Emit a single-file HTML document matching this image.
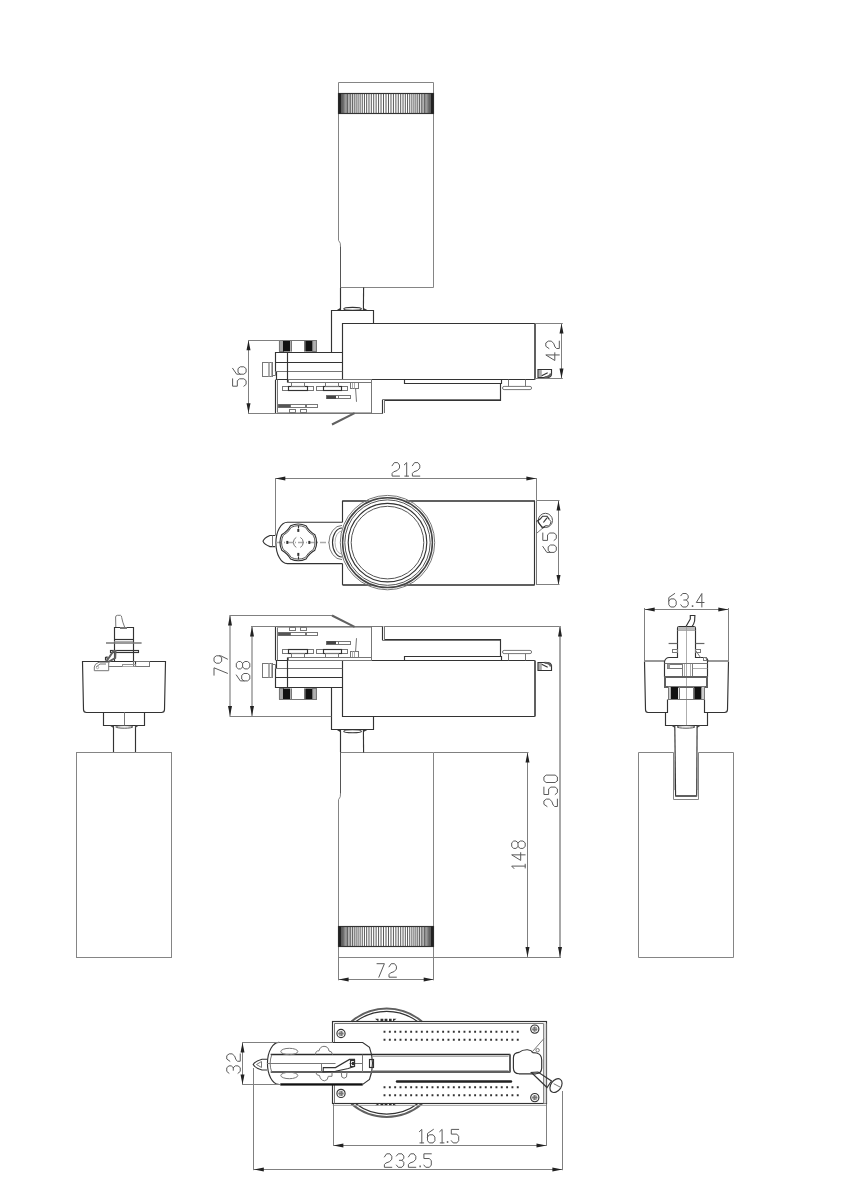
<!DOCTYPE html>
<html><head><meta charset="utf-8"><style>
html,body{margin:0;padding:0;background:#fff;font-family:"Liberation Sans",sans-serif;}
svg{display:block}

.o{fill:none;stroke:#777;stroke-width:1}
.cy{fill:none;stroke:#858585;stroke-width:1}
.o5{fill:none;stroke:#555;stroke-width:1}
.oD{fill:none;stroke:#2a2a2a;stroke-width:1.4}
.o2{fill:none;stroke:#333;stroke-width:1.15}
.o3{fill:none;stroke:#606060;stroke-width:2}
.o3b{fill:none;stroke:#444;stroke-width:1.5}
.g{fill:none;stroke:#999;stroke-width:.8}
.d{fill:none;stroke:#808080;stroke-width:1}
.d2{fill:none;stroke:#8c8c8c;stroke-width:1.3}
.d3{fill:none;stroke:#a8a8a8;stroke-width:2}
.a{fill:#222;stroke:none}
.t{fill:none;stroke:#5a5a5a;stroke-width:1;stroke-linejoin:round;stroke-linecap:round}
.k{fill:none;stroke:#222;stroke-width:.75}
.cl{fill:none;stroke:#aaa;stroke-width:1.5;stroke-dasharray:6 2 1 2}
.o3g{fill:none;stroke:#777;stroke-width:1.6}
.o2g{fill:none;stroke:#666;stroke-width:1.2}

</style></head><body>
<svg width="848" height="1200" viewBox="0 0 848 1200">
<rect width="848" height="1200" fill="#fff"/>
<g>
<path class="cy" d="M340.5,752.5 L340.5,793.5 Q341,797 338.5,799.7 L338.5,957.5 L433.5,957.5 L433.5,752.5 Z"/>
<line class="o5" x1="340.5" y1="752.5" x2="340.5" y2="793.5"/>
<path class="k" d="M338.57,926.5 V946.5 M338.76,926.5 V946.5 M339.08,926.5 V946.5 M339.54,926.5 V946.5 M340.12,926.5 V946.5 M340.82,926.5 V946.5 M341.65,926.5 V946.5 M342.61,926.5 V946.5 M343.68,926.5 V946.5 M344.86,926.5 V946.5 M346.16,926.5 V946.5 M347.57,926.5 V946.5 M349.09,926.5 V946.5 M350.7,926.5 V946.5 M352.41,926.5 V946.5 M354.22,926.5 V946.5 M356.11,926.5 V946.5 M358.08,926.5 V946.5 M360.13,926.5 V946.5 M362.25,926.5 V946.5 M364.44,926.5 V946.5 M366.68,926.5 V946.5 M368.98,926.5 V946.5 M371.32,926.5 V946.5 M373.71,926.5 V946.5 M376.12,926.5 V946.5 M378.57,926.5 V946.5 M381.03,926.5 V946.5 M383.51,926.5 V946.5 M386,926.5 V946.5 M388.49,926.5 V946.5 M390.97,926.5 V946.5 M393.43,926.5 V946.5 M395.88,926.5 V946.5 M398.29,926.5 V946.5 M400.68,926.5 V946.5 M403.02,926.5 V946.5 M405.32,926.5 V946.5 M407.56,926.5 V946.5 M409.75,926.5 V946.5 M411.87,926.5 V946.5 M413.92,926.5 V946.5 M415.89,926.5 V946.5 M417.78,926.5 V946.5 M419.59,926.5 V946.5 M421.3,926.5 V946.5 M422.91,926.5 V946.5 M424.43,926.5 V946.5 M425.84,926.5 V946.5 M427.14,926.5 V946.5 M428.32,926.5 V946.5 M429.39,926.5 V946.5 M430.35,926.5 V946.5 M431.18,926.5 V946.5 M431.88,926.5 V946.5 M432.46,926.5 V946.5 M432.92,926.5 V946.5 M433.24,926.5 V946.5 M433.43,926.5 V946.5 "/>
<rect class="o2" x="338.5" y="926.5" width="95" height="20"/>
<rect x="338.5" y="926.5" width="2.5" height="20" fill="#222"/>
<rect x="431" y="926.5" width="2.5" height="20" fill="#222"/>
<line class="o2" x1="340.5" y1="729.3" x2="340.5" y2="752.4"/>
<line class="o2" x1="363.4" y1="729.3" x2="363.6" y2="752.4"/>
<ellipse class="o2" cx="352.6" cy="731.2" rx="8.8" ry="1.5"/>
<path fill="#333" d="M336.5,729.8 L340.6,729.8 L340.6,732.3 Z M367.8,729.8 L363,729.8 L363,732.3 Z"/>
<path class="o2" d="M342.5,716.5 L373.5,716.5 L373.5,729.5 L331.5,729.5 L331.5,687.5"/>
<path class="o2" d="M535,660.5 L342.5,660.5 L342.5,716.5 L535,716.5"/>
<line class="o3" x1="535" y1="660.5" x2="535" y2="716.5"/>
<path class="o2" d="M342.5,660.5 L276.5,660.5 L276.5,668.5 L275.5,668.5 L275.5,687.5 L342.5,687.5"/>
<line class="o" x1="275.3" y1="668.5" x2="342.3" y2="668.5"/>
<line class="o2" x1="275.3" y1="677.5" x2="342.3" y2="677.5"/>
<line class="o2" x1="287.5" y1="657.4" x2="287.5" y2="687.4"/>
<rect class="o" x="262.5" y="663.5" width="10" height="14"/>
<line class="g" x1="268.5" y1="663.3" x2="268.5" y2="677.5"/>
<line class="g" x1="269.5" y1="663.3" x2="269.5" y2="677.5"/>
<line class="g" x1="271.5" y1="663.3" x2="271.5" y2="677.5"/>
<path class="o" d="M272.5,664.5 L275.5,664.5 L275.5,668.5"/>
<rect x="279" y="688.5" width="4" height="11" fill="#c8c8c8"/>
<path class="g" d="M279.38,688.5 V699.5 M280.38,688.5 V699.5 M281.62,688.5 V699.5 M282.62,688.5 V699.5 "/>
<rect class="o" x="279.5" y="688.5" width="4" height="11"/>
<rect x="283" y="688.5" width="7.3" height="11" fill="#111"/>
<rect x="290.3" y="688.5" width="1.3" height="11" fill="#aaa"/>
<rect x="304.2" y="688.5" width="1.1" height="11" fill="#aaa"/>
<rect x="305.3" y="688.5" width="7" height="11" fill="#111"/>
<rect x="312.3" y="688.5" width="4.2" height="11" fill="#c8c8c8"/>
<path class="g" d="M312.7,688.5 V699.5 M313.75,688.5 V699.5 M315.05,688.5 V699.5 M316.1,688.5 V699.5 "/>
<rect class="o" x="312.5" y="688.5" width="4" height="11"/>
<line class="o" x1="291.5" y1="688.5" x2="291.5" y2="699.5"/>
<line class="o" x1="304.5" y1="688.5" x2="304.5" y2="699.5"/>
<line class="o" x1="279" y1="699.5" x2="316.5" y2="699.5"/>
<line class="o2" x1="275.5" y1="626.4" x2="275.5" y2="660.4"/>
<line class="o" x1="277.5" y1="627.3" x2="277.5" y2="660.4"/>
<line class="o" x1="275.6" y1="626.5" x2="382.5" y2="626.5"/>
<line class="g" x1="277.5" y1="627.5" x2="371.6" y2="627.5"/>
<line class="o" x1="371.5" y1="626.4" x2="371.5" y2="660.4"/>
<rect class="o" x="289.5" y="627.5" width="6" height="3"/>
<rect class="o" x="300.5" y="627.5" width="6" height="3"/>
<rect class="o" x="278.5" y="632.5" width="39" height="3"/>
<rect x="278.6" y="632.7" width="12.2" height="2.7" fill="#555"/>
<line class="o" x1="305.5" y1="632.7" x2="305.5" y2="635.4"/>
<line class="o" x1="306.5" y1="632.7" x2="306.5" y2="635.4"/>
<rect class="o" x="326.5" y="641.5" width="24" height="3"/>
<rect x="326.8" y="641.2" width="9.2" height="2.9" fill="#444"/>
<line class="o" x1="338.5" y1="641.2" x2="338.5" y2="644.1"/>
<rect class="o" x="282.5" y="649.5" width="31" height="4"/>
<rect class="o2" x="288.5" y="649.5" width="19" height="4"/>
<rect class="o" x="291.5" y="653.5" width="13" height="4"/>
<rect class="o" x="316.5" y="649.5" width="31" height="4"/>
<rect class="o2" x="323.5" y="649.5" width="18" height="4"/>
<rect class="o" x="325.5" y="653.5" width="13" height="4"/>
<rect class="o" x="350.5" y="651.5" width="8" height="6"/>
<line class="g" x1="352.5" y1="651" x2="352.5" y2="657.4"/>
<line class="g" x1="354.5" y1="651" x2="354.5" y2="657.4"/>
<path class="o" d="M355.6,651 L356.5,638.2"/>
<line class="o3" x1="332" y1="615.5" x2="354.6" y2="626.9"/>
<rect class="o" x="288.5" y="657.5" width="83" height="3"/>
<line class="o2" x1="382.5" y1="626.4" x2="382.5" y2="640.4"/>
<line class="o" x1="384.5" y1="627" x2="384.5" y2="639"/>
<line class="o" x1="382.5" y1="640.5" x2="500.3" y2="640.5"/>
<line class="o2" x1="384.3" y1="639.5" x2="500.3" y2="639.5"/>
<line class="o2" x1="500.5" y1="639" x2="500.5" y2="657"/>
<path class="o2" d="M404.5,660.5 L404.5,656.5 L501.5,656.5 L501.5,660.5"/>
<rect class="o" x="502.5" y="650.4" width="29.1" height="3.2" rx="1.6"/>
<line class="o" x1="508.5" y1="653.6" x2="508.5" y2="660.4"/>
<line class="o" x1="525.5" y1="653.6" x2="525.5" y2="660.4"/>
<rect x="538.3" y="662.8" width="3.5" height="7.4" fill="#aaa"/>
<path class="o2" d="M538,662.5 L538,670.5 L551.5,670.5 L551.5,665.5 Q550.8,662.5 547,662.5 Z"/>
<path class="o3" d="M544.5,662.8 Q550,663 550.8,666.5"/>
<line class="o2" x1="541.7" y1="664.2" x2="547.7" y2="667.2"/>
</g>
<g transform="matrix(1 0 0 -1 0 1040)">
<path class="cy" d="M340.5,752.5 L340.5,793.5 Q341,797 338.5,799.7 L338.5,957.5 L433.5,957.5 L433.5,752.5 Z"/>
<line class="o5" x1="340.5" y1="752.5" x2="340.5" y2="793.5"/>
<path class="k" d="M338.57,926.5 V946.5 M338.76,926.5 V946.5 M339.08,926.5 V946.5 M339.54,926.5 V946.5 M340.12,926.5 V946.5 M340.82,926.5 V946.5 M341.65,926.5 V946.5 M342.61,926.5 V946.5 M343.68,926.5 V946.5 M344.86,926.5 V946.5 M346.16,926.5 V946.5 M347.57,926.5 V946.5 M349.09,926.5 V946.5 M350.7,926.5 V946.5 M352.41,926.5 V946.5 M354.22,926.5 V946.5 M356.11,926.5 V946.5 M358.08,926.5 V946.5 M360.13,926.5 V946.5 M362.25,926.5 V946.5 M364.44,926.5 V946.5 M366.68,926.5 V946.5 M368.98,926.5 V946.5 M371.32,926.5 V946.5 M373.71,926.5 V946.5 M376.12,926.5 V946.5 M378.57,926.5 V946.5 M381.03,926.5 V946.5 M383.51,926.5 V946.5 M386,926.5 V946.5 M388.49,926.5 V946.5 M390.97,926.5 V946.5 M393.43,926.5 V946.5 M395.88,926.5 V946.5 M398.29,926.5 V946.5 M400.68,926.5 V946.5 M403.02,926.5 V946.5 M405.32,926.5 V946.5 M407.56,926.5 V946.5 M409.75,926.5 V946.5 M411.87,926.5 V946.5 M413.92,926.5 V946.5 M415.89,926.5 V946.5 M417.78,926.5 V946.5 M419.59,926.5 V946.5 M421.3,926.5 V946.5 M422.91,926.5 V946.5 M424.43,926.5 V946.5 M425.84,926.5 V946.5 M427.14,926.5 V946.5 M428.32,926.5 V946.5 M429.39,926.5 V946.5 M430.35,926.5 V946.5 M431.18,926.5 V946.5 M431.88,926.5 V946.5 M432.46,926.5 V946.5 M432.92,926.5 V946.5 M433.24,926.5 V946.5 M433.43,926.5 V946.5 "/>
<rect class="o2" x="338.5" y="926.5" width="95" height="20"/>
<rect x="338.5" y="926.5" width="2.5" height="20" fill="#222"/>
<rect x="431" y="926.5" width="2.5" height="20" fill="#222"/>
<line class="o2" x1="340.5" y1="729.3" x2="340.5" y2="752.4"/>
<line class="o2" x1="363.4" y1="729.3" x2="363.6" y2="752.4"/>
<ellipse class="o2" cx="352.6" cy="731.2" rx="8.8" ry="1.5"/>
<path fill="#333" d="M336.5,729.8 L340.6,729.8 L340.6,732.3 Z M367.8,729.8 L363,729.8 L363,732.3 Z"/>
<path class="o2" d="M342.5,716.5 L373.5,716.5 L373.5,729.5 L331.5,729.5 L331.5,687.5"/>
<path class="o2" d="M535,660.5 L342.5,660.5 L342.5,716.5 L535,716.5"/>
<line class="o3" x1="535" y1="660.5" x2="535" y2="716.5"/>
<path class="o2" d="M342.5,660.5 L276.5,660.5 L276.5,668.5 L275.5,668.5 L275.5,687.5 L342.5,687.5"/>
<line class="o" x1="275.3" y1="668.5" x2="342.3" y2="668.5"/>
<line class="o2" x1="275.3" y1="677.5" x2="342.3" y2="677.5"/>
<line class="o2" x1="287.5" y1="657.4" x2="287.5" y2="687.4"/>
<rect class="o" x="262.5" y="663.5" width="10" height="14"/>
<line class="g" x1="268.5" y1="663.3" x2="268.5" y2="677.5"/>
<line class="g" x1="269.5" y1="663.3" x2="269.5" y2="677.5"/>
<line class="g" x1="271.5" y1="663.3" x2="271.5" y2="677.5"/>
<path class="o" d="M272.5,664.5 L275.5,664.5 L275.5,668.5"/>
<rect x="279" y="688.5" width="4" height="11" fill="#c8c8c8"/>
<path class="g" d="M279.38,688.5 V699.5 M280.38,688.5 V699.5 M281.62,688.5 V699.5 M282.62,688.5 V699.5 "/>
<rect class="o" x="279.5" y="688.5" width="4" height="11"/>
<rect x="283" y="688.5" width="7.3" height="11" fill="#111"/>
<rect x="290.3" y="688.5" width="1.3" height="11" fill="#aaa"/>
<rect x="304.2" y="688.5" width="1.1" height="11" fill="#aaa"/>
<rect x="305.3" y="688.5" width="7" height="11" fill="#111"/>
<rect x="312.3" y="688.5" width="4.2" height="11" fill="#c8c8c8"/>
<path class="g" d="M312.7,688.5 V699.5 M313.75,688.5 V699.5 M315.05,688.5 V699.5 M316.1,688.5 V699.5 "/>
<rect class="o" x="312.5" y="688.5" width="4" height="11"/>
<line class="o" x1="291.5" y1="688.5" x2="291.5" y2="699.5"/>
<line class="o" x1="304.5" y1="688.5" x2="304.5" y2="699.5"/>
<line class="o" x1="279" y1="699.5" x2="316.5" y2="699.5"/>
<line class="o2" x1="275.5" y1="626.4" x2="275.5" y2="660.4"/>
<line class="o" x1="277.5" y1="627.3" x2="277.5" y2="660.4"/>
<line class="o" x1="275.6" y1="626.5" x2="382.5" y2="626.5"/>
<line class="g" x1="277.5" y1="627.5" x2="371.6" y2="627.5"/>
<line class="o" x1="371.5" y1="626.4" x2="371.5" y2="660.4"/>
<rect class="o" x="289.5" y="627.5" width="6" height="3"/>
<rect class="o" x="300.5" y="627.5" width="6" height="3"/>
<rect class="o" x="278.5" y="632.5" width="39" height="3"/>
<rect x="278.6" y="632.7" width="12.2" height="2.7" fill="#555"/>
<line class="o" x1="305.5" y1="632.7" x2="305.5" y2="635.4"/>
<line class="o" x1="306.5" y1="632.7" x2="306.5" y2="635.4"/>
<rect class="o" x="326.5" y="641.5" width="24" height="3"/>
<rect x="326.8" y="641.2" width="9.2" height="2.9" fill="#444"/>
<line class="o" x1="338.5" y1="641.2" x2="338.5" y2="644.1"/>
<rect class="o" x="282.5" y="649.5" width="31" height="4"/>
<rect class="o2" x="288.5" y="649.5" width="19" height="4"/>
<rect class="o" x="291.5" y="653.5" width="13" height="4"/>
<rect class="o" x="316.5" y="649.5" width="31" height="4"/>
<rect class="o2" x="323.5" y="649.5" width="18" height="4"/>
<rect class="o" x="325.5" y="653.5" width="13" height="4"/>
<rect class="o" x="350.5" y="651.5" width="8" height="6"/>
<line class="g" x1="352.5" y1="651" x2="352.5" y2="657.4"/>
<line class="g" x1="354.5" y1="651" x2="354.5" y2="657.4"/>
<path class="o" d="M355.6,651 L356.5,638.2"/>
<line class="o3" x1="332" y1="615.5" x2="354.6" y2="626.9"/>
<rect class="o" x="288.5" y="657.5" width="83" height="3"/>
<line class="o2" x1="382.5" y1="626.4" x2="382.5" y2="640.4"/>
<line class="o" x1="384.5" y1="627" x2="384.5" y2="639"/>
<line class="o" x1="382.5" y1="640.5" x2="500.3" y2="640.5"/>
<line class="o2" x1="384.3" y1="639.5" x2="500.3" y2="639.5"/>
<line class="o2" x1="500.5" y1="639" x2="500.5" y2="657"/>
<path class="o2" d="M404.5,660.5 L404.5,656.5 L501.5,656.5 L501.5,660.5"/>
<rect class="o" x="502.5" y="650.4" width="29.1" height="3.2" rx="1.6"/>
<line class="o" x1="508.5" y1="653.6" x2="508.5" y2="660.4"/>
<line class="o" x1="525.5" y1="653.6" x2="525.5" y2="660.4"/>
<rect x="538.3" y="662.8" width="3.5" height="7.4" fill="#aaa"/>
<path class="o2" d="M538,662.5 L538,670.5 L551.5,670.5 L551.5,665.5 Q550.8,662.5 547,662.5 Z"/>
<path class="o3" d="M544.5,662.8 Q550,663 550.8,666.5"/>
<line class="o2" x1="541.7" y1="664.2" x2="547.7" y2="667.2"/>
</g>
<line class="o3" x1="342.5" y1="501" x2="534.7" y2="501"/>
<line class="o3" x1="342.5" y1="585" x2="534.7" y2="585"/>
<line class="o2" x1="534.5" y1="500.6" x2="534.5" y2="584.9"/>
<line class="o" x1="536.5" y1="500.6" x2="536.5" y2="584.9"/>
<line class="o2" x1="342.5" y1="500.6" x2="342.5" y2="522.2"/>
<line class="o2" x1="342.5" y1="563.6" x2="342.5" y2="584.9"/>
<circle cx="387.5" cy="542.6" r="46" fill="#fff" stroke="none"/>
<circle class="o" cx="387.5" cy="542.6" r="47.2"/>
<circle class="o3b" cx="387.5" cy="542.6" r="44.9"/>
<circle class="o5" cx="387.5" cy="542.6" r="42.7"/>
<circle class="o2" cx="387.5" cy="542.6" r="39.3"/>
<circle class="o5" cx="387.5" cy="542.6" r="36.3"/>
<path class="o2" d="M342.5,522.2 L287.4,522.2 A11.5,20.7 0 0 0 287.4,563.6 L342.5,563.6"/>
<line class="cl" x1="276" y1="542.5" x2="331" y2="542.5"/>
<path class="o" d="M342,525.4 A13,17 0 0 0 342,559.6"/>
<path class="o2" d="M342,528 A9.5,14.5 0 0 0 342,557"/>
<path class="g" d="M342,531 A7,11.5 0 0 0 342,554"/>
<path class="o2" d="M290.57,525.82 Q298.3,522.21 306.03,525.82 Q309.15,531.55 314.88,534.67 L314.88,534.67 Q318.49,542.4 314.88,550.13 Q309.15,553.25 306.03,558.98 L306.03,558.98 Q298.3,562.59 290.57,558.98 Q287.45,553.25 281.72,550.13 L281.72,550.13 Q278.11,542.4 281.72,534.67 Q287.45,531.55 290.57,525.82 Z"/>
<path class="o5" d="M291.27,527.31 Q298.3,524.03 305.33,527.31 Q308.17,532.53 313.39,535.37 L313.39,535.37 Q316.67,542.4 313.39,549.43 Q308.17,552.27 305.33,557.49 L305.33,557.49 Q298.3,560.77 291.27,557.49 Q288.43,552.27 283.21,549.43 L283.21,549.43 Q279.93,542.4 283.21,535.37 Q288.43,532.53 291.27,527.31 Z"/>
<path class="o" d="M296.3,537.4 A5,5.5 0 0 0 296.3,547.4"/>
<path class="o" d="M300.3,537.4 A5,5.5 0 0 1 300.3,547.4"/>
<rect x="297.3" y="528.9" width="2" height="3" fill="#333"/>
<rect x="297.3" y="552.9" width="2" height="3" fill="#333"/>
<rect x="286.3" y="540.9" width="2" height="3" fill="#333"/>
<rect x="308.3" y="540.9" width="2" height="3" fill="#333"/>
<line class="o2" x1="298.5" y1="525.4" x2="298.5" y2="528.4"/>
<line class="o2" x1="298.5" y1="556.4" x2="298.5" y2="559.4"/>
<path class="o2" d="M275.2,535.5 L270,535.5 Q264,538 263,541.2 Q264,544.5 270,546.6 L275.2,546.6"/>
<line class="o" x1="272.5" y1="535.5" x2="272.5" y2="546.6"/>
<circle class="o5" cx="545.4" cy="520.4" r="7.1"/>
<path class="o2" d="M536.5,521.4 L540.2,519.1 L542.6,516.2 L547,516.2 L549.3,519.4"/>
<path class="o2" d="M537.9,521.7 L542.6,528.2 L545.7,525.6"/>
<path class="o5" d="M549.3,519.4 A3.6,3.6 0 0 1 545.7,525.6"/>
<line class="o2" x1="543.4" y1="522.5" x2="547" y2="517.8"/>
<line class="o" x1="536.4" y1="533.5" x2="542.6" y2="528.2"/>
<path class="o2" d="M82.5,661.5 L165.5,661.5 L164.5,709.5 Q164.5,712.5 161.5,712.5 L86.5,712.5 Q83.5,712.5 83.5,709.5 Z"/>
<path class="o2" d="M103.5,712.5 L103.5,725.5 L144.5,725.5 L144.5,712.5"/>
<line class="o" x1="124.5" y1="712.3" x2="124.5" y2="725.5"/>
<line class="o2" x1="113.5" y1="725.5" x2="113.5" y2="752.5"/>
<line class="o2" x1="135.5" y1="725.5" x2="135.5" y2="752.5"/>
<ellipse class="o5" cx="124.3" cy="726.9" rx="8.6" ry="1.3"/>
<path fill="#444" d="M109.5,725.5 L113.5,725.5 L113.5,728 Z M139,725.5 L135,725.5 L135,728 Z"/>
<rect class="cy" x="76.5" y="752.5" width="95" height="205"/>
<path class="o2" d="M114.5,661.5 L114.5,627.5 L133.5,627.5 L133.5,661.5"/>
<line class="o2" x1="114.2" y1="639.5" x2="133.1" y2="639.5"/>
<line class="g" x1="114.2" y1="641.5" x2="133.1" y2="641.5"/>
<line class="o3g" x1="106" y1="643" x2="141.6" y2="643"/>
<rect class="o2" x="110.5" y="650.5" width="28" height="2"/>
<rect x="120" y="627" width="7" height="2" fill="#777"/>
<path class="o" d="M115.8,627 L115.6,617 Q115.8,615.3 117.5,615.3 L120.5,615.3 Q121.6,615.6 121.7,617.5 Q122.5,622 124.6,627"/>
<path class="o" d="M94.3,670.7 L108.7,670.7 L108.7,662.2 L99,662.2 Q94.3,664 94.3,667 Z"/>
<path class="o" d="M96,667 L100,664 L106,664"/>
<circle class="g" cx="97.5" cy="667.5" r="1.2"/>
<path class="o2" d="M105.5,660.5 L105.5,657.5 L107,657 L107.5,661"/>
<path class="o3" d="M106.5,661.2 L113.5,651 L115.5,651 L115.2,658 L108.5,661.8"/>
<path class="o" d="M108.5,666.5 L122.5,666.5 L122.5,664.5 L133.5,664.5"/>
<rect class="o" x="133.5" y="661.5" width="16" height="5"/>
<line class="o2" x1="135.5" y1="661.5" x2="135.5" y2="666.3"/>
<rect class="g" x="122.5" y="664.5" width="13" height="2"/>
<path class="o2" d="M644.7,661 L664.6,661 M707.8,661 L728.3,661"/>
<path class="o2" d="M644.5,661.5 L645.5,709.5 Q645.5,712.5 648,712.5 L667.5,712.5 L667.5,699.5"/>
<path class="o2" d="M728.5,661.5 L727.5,709.5 Q727.5,712.5 724.5,712.5 L704.5,712.5 L704.5,699.5"/>
<path class="o2" d="M664.6,661 Q666,657.5 669,657.5 L677.5,657.5 L677.5,628.5 Q677.5,626.6 679.5,626.6 L693.5,626.6 Q695.5,626.6 695.5,628.5 L695.5,657.5 L704.5,657.5 Q707.8,658 707.8,661"/>
<line class="g" x1="677.5" y1="630.5" x2="695.5" y2="630.5"/>
<rect x="678" y="627" width="17" height="3" fill="#bbb"/>
<line class="o2g" x1="668.6" y1="643.5" x2="677.5" y2="643.5"/>
<line class="o2g" x1="695.5" y1="643.5" x2="704.4" y2="643.5"/>
<rect class="o" x="672.5" y="649.5" width="5" height="3"/>
<rect class="o" x="695.5" y="649.5" width="5" height="3"/>
<path class="o" d="M696,651 L700.5,657.5"/>
<rect class="o" x="703.5" y="657.5" width="3" height="3"/>
<path class="o2" d="M686,626.6 Q688.5,622 690.3,619 L690.3,615.5 L694.9,615.5 L694.6,621 Q694,624 692,626.6"/>
<line class="g" x1="686.5" y1="626.6" x2="686.5" y2="725.5"/>
<line class="o2" x1="664.5" y1="661" x2="664.5" y2="677.3"/>
<line class="o2" x1="707.5" y1="661" x2="707.5" y2="677.3"/>
<rect class="o" x="667.5" y="664.5" width="15" height="4"/>
<rect x="667.4" y="664" width="2.6" height="4.3" fill="#999"/>
<line class="o" x1="682.5" y1="663.8" x2="682.5" y2="677.3"/>
<line class="o" x1="692.5" y1="663.8" x2="692.5" y2="677.3"/>
<line class="g" x1="684.5" y1="663.8" x2="684.5" y2="677.3"/>
<line class="g" x1="690.5" y1="663.8" x2="690.5" y2="677.3"/>
<line class="o" x1="664.6" y1="663.5" x2="707.5" y2="663.5"/>
<line class="g" x1="692.7" y1="668.5" x2="707.5" y2="668.5"/>
<rect class="o3" x="665" y="677" width="42" height="10"/>
<rect x="668" y="686.8" width="2.8" height="12.6" fill="#ccc"/>
<rect x="670.8" y="686.8" width="7.3" height="12.6" fill="#111"/>
<rect x="694.3" y="686.8" width="7.3" height="12.6" fill="#111"/>
<rect x="701.6" y="686.8" width="2.8" height="12.6" fill="#ccc"/>
<rect class="o" x="668.5" y="686.5" width="36" height="13"/>
<line class="o" x1="679.5" y1="686.8" x2="679.5" y2="699.4"/>
<line class="o" x1="693.5" y1="686.8" x2="693.5" y2="699.4"/>
<path class="o2" d="M665.5,712.5 L665.5,725.5 L707.5,725.5 L707.5,712.5"/>
<line class="o2" x1="674.8" y1="725.5" x2="675.6" y2="796.5"/>
<line class="o2" x1="697.1" y1="725.5" x2="696.7" y2="796.5"/>
<ellipse class="o5" cx="686" cy="726.9" rx="9" ry="1.3"/>
<path fill="#444" d="M671,725.5 L675,725.5 L675,728 Z M701,725.5 L697,725.5 L697,728 Z"/>
<line class="o3" x1="675.6" y1="796" x2="696.7" y2="796"/>
<path class="cy" d="M673.5,752.5 L638.5,752.5 L638.5,957.5 L733.5,957.5 L733.5,752.5 L698.5,752.5"/>
<path class="cy" d="M673.5,752.5 L673.5,799.5 L698.5,799.5 L698.5,752.5"/>
<line class="g" x1="674.5" y1="760" x2="674.5" y2="790"/>
<line class="g" x1="697.5" y1="760" x2="697.5" y2="790"/>
<path class="o3" d="M351.48,1021.5 A54.2,54.2 0 0 1 421.92,1021.5"/>
<path class="o3" d="M351.37,1103.8 A54.2,54.2 0 0 0 422.03,1103.8"/>
<path class="o2" d="M355.97,1021.5 A51.4,51.4 0 0 1 417.43,1021.5"/>
<path class="o2" d="M355.83,1103.8 A51.4,51.4 0 0 0 417.57,1103.8"/>
<path fill="#333" d="M375,1018.8 l3.5,0 l0,2.6 Z M380.5,1018.8 h2.8 v2.6 h-2.8 Z M384.6,1018.8 h2.8 v2.6 h-2.8 Z M389,1018.8 h2.6 v2.6 h-2.6 Z M393,1018.8 l3.5,0 l-3.5,2.6 Z"/>
<path fill="#333" d="M375,1105.6 l3.5,0 l0,-2.6 Z M380.5,1105.6 h2.8 v-2.6 h-2.8 Z M384.6,1105.6 h2.8 v-2.6 h-2.8 Z M389,1105.6 h2.6 v-2.6 h-2.6 Z M393,1105.6 l3.5,0 l-3.5,-2.6 Z"/>
<rect class="o2" x="332.5" y="1021.5" width="214" height="82"/>
<path class="o" d="M334.5,1103.5 L334.5,1023.5 L543.5,1023.5 L543.5,1103.5"/>
<line class="g" x1="332.8" y1="1105.5" x2="546.7" y2="1105.5"/>
<rect x="543.8" y="1023.3" width="2.5" height="80.2" fill="#d8d8d8"/>
<circle class="o2" cx="341" cy="1033.5" r="4.1"/>
<circle cx="341" cy="1033.5" r="2.6" fill="#999"/>
<line class="o" x1="338.6" y1="1033.5" x2="343.4" y2="1033.5"/>
<line class="o" x1="341.5" y1="1031.1" x2="341.5" y2="1035.9"/>
<circle class="o2" cx="341" cy="1093.4" r="4.1"/>
<circle cx="341" cy="1093.4" r="2.6" fill="#999"/>
<line class="o" x1="338.6" y1="1093.5" x2="343.4" y2="1093.5"/>
<line class="o" x1="341.5" y1="1091" x2="341.5" y2="1095.8"/>
<circle class="o2" cx="534.8" cy="1029.1" r="4.1"/>
<circle cx="534.8" cy="1029.1" r="2.6" fill="#999"/>
<line class="o" x1="532.4" y1="1029.5" x2="537.2" y2="1029.5"/>
<line class="o" x1="534.5" y1="1026.7" x2="534.5" y2="1031.5"/>
<circle class="o2" cx="534.8" cy="1097.6" r="4.1"/>
<circle cx="534.8" cy="1097.6" r="2.6" fill="#999"/>
<line class="o" x1="532.4" y1="1097.5" x2="537.2" y2="1097.5"/>
<line class="o" x1="534.5" y1="1095.2" x2="534.5" y2="1100"/>
<path d="M383.55,1030.85h1.9v1.9h-1.9zM388.88,1030.85h1.9v1.9h-1.9zM394.21,1030.85h1.9v1.9h-1.9zM399.54,1030.85h1.9v1.9h-1.9zM404.87,1030.85h1.9v1.9h-1.9zM410.2,1030.85h1.9v1.9h-1.9zM415.53,1030.85h1.9v1.9h-1.9zM420.86,1030.85h1.9v1.9h-1.9zM426.19,1030.85h1.9v1.9h-1.9zM431.52,1030.85h1.9v1.9h-1.9zM436.85,1030.85h1.9v1.9h-1.9zM442.18,1030.85h1.9v1.9h-1.9zM447.51,1030.85h1.9v1.9h-1.9zM452.84,1030.85h1.9v1.9h-1.9zM458.17,1030.85h1.9v1.9h-1.9zM463.5,1030.85h1.9v1.9h-1.9zM468.83,1030.85h1.9v1.9h-1.9zM474.16,1030.85h1.9v1.9h-1.9zM479.49,1030.85h1.9v1.9h-1.9zM484.82,1030.85h1.9v1.9h-1.9zM490.15,1030.85h1.9v1.9h-1.9zM495.48,1030.85h1.9v1.9h-1.9zM500.81,1030.85h1.9v1.9h-1.9zM506.14,1030.85h1.9v1.9h-1.9zM511.47,1030.85h1.9v1.9h-1.9zM516.8,1030.85h1.9v1.9h-1.9zM383.55,1038.75h1.9v1.9h-1.9zM388.88,1038.75h1.9v1.9h-1.9zM394.21,1038.75h1.9v1.9h-1.9zM399.54,1038.75h1.9v1.9h-1.9zM404.87,1038.75h1.9v1.9h-1.9zM410.2,1038.75h1.9v1.9h-1.9zM415.53,1038.75h1.9v1.9h-1.9zM420.86,1038.75h1.9v1.9h-1.9zM426.19,1038.75h1.9v1.9h-1.9zM431.52,1038.75h1.9v1.9h-1.9zM436.85,1038.75h1.9v1.9h-1.9zM442.18,1038.75h1.9v1.9h-1.9zM447.51,1038.75h1.9v1.9h-1.9zM452.84,1038.75h1.9v1.9h-1.9zM458.17,1038.75h1.9v1.9h-1.9zM463.5,1038.75h1.9v1.9h-1.9zM468.83,1038.75h1.9v1.9h-1.9zM474.16,1038.75h1.9v1.9h-1.9zM479.49,1038.75h1.9v1.9h-1.9zM484.82,1038.75h1.9v1.9h-1.9zM490.15,1038.75h1.9v1.9h-1.9zM495.48,1038.75h1.9v1.9h-1.9zM500.81,1038.75h1.9v1.9h-1.9zM506.14,1038.75h1.9v1.9h-1.9zM511.47,1038.75h1.9v1.9h-1.9zM516.8,1038.75h1.9v1.9h-1.9zM383.55,1086.25h1.9v1.9h-1.9zM388.88,1086.25h1.9v1.9h-1.9zM394.21,1086.25h1.9v1.9h-1.9zM399.54,1086.25h1.9v1.9h-1.9zM404.87,1086.25h1.9v1.9h-1.9zM410.2,1086.25h1.9v1.9h-1.9zM415.53,1086.25h1.9v1.9h-1.9zM420.86,1086.25h1.9v1.9h-1.9zM426.19,1086.25h1.9v1.9h-1.9zM431.52,1086.25h1.9v1.9h-1.9zM436.85,1086.25h1.9v1.9h-1.9zM442.18,1086.25h1.9v1.9h-1.9zM447.51,1086.25h1.9v1.9h-1.9zM452.84,1086.25h1.9v1.9h-1.9zM458.17,1086.25h1.9v1.9h-1.9zM463.5,1086.25h1.9v1.9h-1.9zM468.83,1086.25h1.9v1.9h-1.9zM474.16,1086.25h1.9v1.9h-1.9zM479.49,1086.25h1.9v1.9h-1.9zM484.82,1086.25h1.9v1.9h-1.9zM490.15,1086.25h1.9v1.9h-1.9zM495.48,1086.25h1.9v1.9h-1.9zM500.81,1086.25h1.9v1.9h-1.9zM506.14,1086.25h1.9v1.9h-1.9zM511.47,1086.25h1.9v1.9h-1.9zM516.8,1086.25h1.9v1.9h-1.9zM383.55,1094.35h1.9v1.9h-1.9zM388.88,1094.35h1.9v1.9h-1.9zM394.21,1094.35h1.9v1.9h-1.9zM399.54,1094.35h1.9v1.9h-1.9zM404.87,1094.35h1.9v1.9h-1.9zM410.2,1094.35h1.9v1.9h-1.9zM415.53,1094.35h1.9v1.9h-1.9zM420.86,1094.35h1.9v1.9h-1.9zM426.19,1094.35h1.9v1.9h-1.9zM431.52,1094.35h1.9v1.9h-1.9zM436.85,1094.35h1.9v1.9h-1.9zM442.18,1094.35h1.9v1.9h-1.9zM447.51,1094.35h1.9v1.9h-1.9zM452.84,1094.35h1.9v1.9h-1.9zM458.17,1094.35h1.9v1.9h-1.9zM463.5,1094.35h1.9v1.9h-1.9zM468.83,1094.35h1.9v1.9h-1.9zM474.16,1094.35h1.9v1.9h-1.9zM479.49,1094.35h1.9v1.9h-1.9zM484.82,1094.35h1.9v1.9h-1.9zM490.15,1094.35h1.9v1.9h-1.9zM495.48,1094.35h1.9v1.9h-1.9zM500.81,1094.35h1.9v1.9h-1.9zM506.14,1094.35h1.9v1.9h-1.9zM511.47,1094.35h1.9v1.9h-1.9zM516.8,1094.35h1.9v1.9h-1.9z" fill="#333"/>
<line x1="397" y1="1081.5" x2="511" y2="1081.5" stroke="#222" stroke-width="2.4" stroke-linecap="round"/>
<path d="M279.2,1042.4 L362.7,1042.4 L369.5,1047.4 Q375.5,1063.4 369.5,1079.4 L362.7,1084.4 L278.7,1084.4 A11.5,21 0 0 1 279.2,1042.4 Z" fill="#fff" stroke="none"/>
<path class="o2" d="M333,1042.5 L362.7,1042.5 L369.5,1047.4 Q375.5,1063.4 369.5,1079.4 L362.7,1084.4"/>
<path class="o" d="M279,1042.5 L333,1042.5"/>
<path class="o2" d="M279.2,1042.4 A11.5,21 0 0 0 278.7,1084.4"/>
<rect x="280.3" y="1083.3" width="82.4" height="2.3" fill="#111"/>
<line class="oD" x1="270.7" y1="1054.5" x2="510.3" y2="1054.5"/>
<line class="o3" x1="270.7" y1="1072" x2="510.3" y2="1072"/>
<line class="o3" x1="510" y1="1054.6" x2="510" y2="1072.2"/>
<line class="g" x1="372" y1="1056.5" x2="508.5" y2="1056.5"/>
<line class="g" x1="372" y1="1070.5" x2="508.5" y2="1070.5"/>
<path class="o" d="M271.8,1054.6 Q268.5,1063.5 271.8,1072.2"/>
<line class="o" x1="267" y1="1063.5" x2="335.5" y2="1063.5"/>
<line class="o" x1="349.5" y1="1063.5" x2="362.7" y2="1063.5"/>
<ellipse class="o" cx="289.3" cy="1051.5" rx="8.5" ry="3.2"/>
<ellipse class="o" cx="289.3" cy="1075.5" rx="8.5" ry="3.2"/>
<path class="o" d="M315.5,1054.6 Q315.5,1050.5 319,1050.8 Q320,1046.5 324,1046.3 Q328.5,1046.5 329,1051 Q332,1051 332.5,1054.6"/>
<path class="o" d="M315.5,1072.3 Q317,1076 319.5,1075.5 Q320.5,1080.5 324.5,1080.8 Q328,1080.5 328.3,1076.3 L332,1076.3 L332,1072.3"/>
<path class="o" d="M341.3,1072.3 L341.8,1077 Q344,1079.5 346.5,1077 L347,1072.3"/>
<line class="o" x1="321.5" y1="1064" x2="321.5" y2="1071.8"/>
<path class="o2" d="M323.1,1071.8 L323.3,1067.6 L335.5,1067.6 L349.5,1059.4 L354.5,1059.4 L354.5,1066.4 L348.3,1068.5 L335.5,1071.2 Z"/>
<rect class="o2" x="350.5" y="1060.5" width="4" height="6"/>
<rect x="352" y="1062" width="2" height="3" fill="#333"/>
<line class="o" x1="362.5" y1="1054.6" x2="362.5" y2="1072.2"/>
<rect class="o2" x="369.5" y="1059.5" width="4" height="8"/>
<path class="o2" d="M267,1059.2 L262,1059.2 Q255,1061 253.2,1064.5 Q255,1068 262,1070 L267,1070"/>
<path class="o" d="M256.5,1064.5 L261.5,1061.5 L261.5,1067.5 Z"/>
<path class="o2" fill="#fff" d="M531.4,1072.5 L547,1087.5 L551.5,1081 L538,1072 Z"/>
<ellipse class="o2" fill="#fff" cx="556" cy="1085.6" rx="7.6" ry="5.2" transform="rotate(-55 556 1085.6)"/>
<line class="o" x1="553.7" y1="1083.7" x2="561.5" y2="1087.8"/>
<path class="o2" d="M513.4,1058 Q513.4,1052.6 519,1052.4 Q522.5,1049.6 527.5,1049.8 Q531.5,1050.2 533,1052.6 L536.5,1053 Q541.6,1054 541.7,1060 L541.7,1068 Q541.5,1073.6 536,1073.8 L519,1073.8 Q513.5,1073.6 513.4,1068 Z"/>
<line class="o" x1="531.8" y1="1052.3" x2="543.8" y2="1038.7"/>
<circle class="o" cx="537.6" cy="1050.2" r="1.7"/>
<line class="d" x1="248.5" y1="340.3" x2="248.5" y2="413.3"/>
<path class="a" d="M248.5,340.3 L250.5,350.3 L246.5,350.3 Z"/>
<path class="a" d="M248.5,413.3 L246.5,403.3 L250.5,403.3 Z"/>
<line class="d" x1="248" y1="340.5" x2="282" y2="340.5"/>
<line class="d" x1="248" y1="413.5" x2="277" y2="413.5"/>
<g transform="translate(246.1,386.2) rotate(-90)"><path class="t" d="M7.4,-13.5 L0,-13.5 L0,-8.78 L5.55,-8.78 L7.4,-6.52 L7.4,-2.25 L5.55,0 L1.85,0 L0,-2.25 M17.92,-13.5 L12,-9.45 L12,-2.25 L13.85,0 L17.55,0 L19.4,-2.25 L19.4,-5.85 L17.55,-8.1 L13.85,-8.1 L12,-5.85"/></g>
<line class="d" x1="561.5" y1="323.5" x2="561.5" y2="378.4"/>
<path class="a" d="M561.5,323.5 L563.5,333.5 L559.5,333.5 Z"/>
<path class="a" d="M561.5,378.4 L559.5,368.4 L563.5,368.4 Z"/>
<line class="d" x1="535" y1="323.5" x2="562.8" y2="323.5"/>
<line class="d" x1="535" y1="378.5" x2="562.8" y2="378.5"/>
<g transform="translate(559.3,360.5) rotate(-90)"><path class="t" d="M5.55,0 L5.55,-13.5 L0,-4.5 L7.77,-4.5 M12,-10.35 L14.22,-13.5 L17.55,-13.5 L19.4,-11.03 L19.4,-8.1 L17.18,-5.62 L13.48,-4.27 L12,-2.7 L12,0 L19.4,0"/></g>
<line class="d" x1="275.3" y1="478.5" x2="536.4" y2="478.5"/>
<path class="a" d="M275.3,478.5 L285.3,476.5 L285.3,480.5 Z"/>
<path class="a" d="M536.4,478.5 L526.4,480.5 L526.4,476.5 Z"/>
<line class="d" x1="275.5" y1="478" x2="275.5" y2="535.5"/>
<line class="d" x1="536.5" y1="478" x2="536.5" y2="500.6"/>
<g transform="translate(392.1,476.1)"><path class="t" d="M0,-10.35 L2.22,-13.5 L5.55,-13.5 L7.4,-11.03 L7.4,-8.1 L5.18,-5.62 L1.48,-4.27 L0,-2.7 L0,0 L7.4,0 M12.2,-11.25 L14.6,-13.5 L14.6,0 M12.7,0 L16.5,0 M20.3,-10.35 L22.52,-13.5 L25.85,-13.5 L27.7,-11.03 L27.7,-8.1 L25.48,-5.62 L21.78,-4.27 L20.3,-2.7 L20.3,0 L27.7,0"/></g>
<line class="d" x1="558.5" y1="500.6" x2="558.5" y2="584.9"/>
<path class="a" d="M558.5,500.6 L560.5,510.6 L556.5,510.6 Z"/>
<path class="a" d="M558.5,584.9 L556.5,574.9 L560.5,574.9 Z"/>
<line class="d" x1="536.4" y1="500.5" x2="559.5" y2="500.5"/>
<line class="d" x1="536.4" y1="584.5" x2="559.5" y2="584.5"/>
<g transform="translate(556.3,552.4) rotate(-90)"><path class="t" d="M5.92,-13.5 L0,-9.45 L0,-2.25 L1.85,0 L5.55,0 L7.4,-2.25 L7.4,-5.85 L5.55,-8.1 L1.85,-8.1 L0,-5.85 M19.4,-13.5 L12,-13.5 L12,-8.78 L17.55,-8.78 L19.4,-6.52 L19.4,-2.25 L17.55,0 L13.85,0 L12,-2.25"/></g>
<line class="d2" x1="230" y1="615.5" x2="230" y2="716"/>
<path class="a" d="M230,615.5 L232,625.5 L228,625.5 Z"/>
<path class="a" d="M230,716 L228,706 L232,706 Z"/>
<line class="d" x1="229.5" y1="615.5" x2="332" y2="615.5"/>
<line class="d" x1="229.5" y1="716.5" x2="331.3" y2="716.5"/>
<line class="d2" x1="252" y1="626.4" x2="252" y2="716"/>
<path class="a" d="M252,626.4 L254,636.4 L250,636.4 Z"/>
<path class="a" d="M252,716 L250,706 L254,706 Z"/>
<line class="d" x1="251" y1="626.5" x2="275.6" y2="626.5"/>
<line class="d" x1="383.6" y1="626.5" x2="561" y2="626.5"/>
<g transform="translate(227.5,675.2) rotate(-90)"><path class="t" d="M0,-13.5 L7.4,-13.5 L1.85,0 M19.4,-8.1 L17.55,-5.85 L13.85,-5.85 L12,-8.1 L12,-11.25 L13.85,-13.5 L17.55,-13.5 L19.4,-11.25 L19.4,-6.75 L16.07,0"/></g>
<g transform="translate(249.8,680.9) rotate(-90)"><path class="t" d="M5.92,-13.5 L0,-9.45 L0,-2.25 L1.85,0 L5.55,0 L7.4,-2.25 L7.4,-5.85 L5.55,-8.1 L1.85,-8.1 L0,-5.85 M13.85,-7.2 L12,-9.22 L12,-11.47 L13.85,-13.5 L17.55,-13.5 L19.4,-11.47 L19.4,-9.22 L17.55,-7.2 L13.85,-7.2 L12,-4.95 L12,-2.25 L13.85,0 L17.55,0 L19.4,-2.25 L19.4,-4.95 L17.55,-7.2"/></g>
<line class="d3" x1="560" y1="626.4" x2="560" y2="957"/>
<path class="a" d="M560,626.4 L562,636.4 L558,636.4 Z"/>
<path class="a" d="M560,957 L558,947 L562,947 Z"/>
<line class="d" x1="433.7" y1="957.5" x2="561" y2="957.5"/>
<g transform="translate(557.4,806.5) rotate(-90)"><path class="t" d="M0,-10.35 L2.22,-13.5 L5.55,-13.5 L7.4,-11.03 L7.4,-8.1 L5.18,-5.62 L1.48,-4.27 L0,-2.7 L0,0 L7.4,0 M19.4,-13.5 L12,-13.5 L12,-8.78 L17.55,-8.78 L19.4,-6.52 L19.4,-2.25 L17.55,0 L13.85,0 L12,-2.25 M25.85,0 L29.55,0 L31.4,-2.25 L31.4,-11.25 L29.55,-13.5 L25.85,-13.5 L24,-11.25 L24,-2.25 L25.85,0"/></g>
<line class="d" x1="527.5" y1="752.4" x2="527.5" y2="957"/>
<path class="a" d="M527.5,752.4 L529.5,762.4 L525.5,762.4 Z"/>
<path class="a" d="M527.5,957 L525.5,947 L529.5,947 Z"/>
<line class="d" x1="433.7" y1="752.5" x2="528.5" y2="752.5"/>
<g transform="translate(525.2,868.7) rotate(-90)"><path class="t" d="M0.2,-11.25 L2.6,-13.5 L2.6,0 M0.7,0 L4.5,0 M13.85,0 L13.85,-13.5 L8.3,-4.5 L16.07,-4.5 M22.15,-7.2 L20.3,-9.22 L20.3,-11.47 L22.15,-13.5 L25.85,-13.5 L27.7,-11.47 L27.7,-9.22 L25.85,-7.2 L22.15,-7.2 L20.3,-4.95 L20.3,-2.25 L22.15,0 L25.85,0 L27.7,-2.25 L27.7,-4.95 L25.85,-7.2"/></g>
<line class="d" x1="338.6" y1="979.5" x2="433.7" y2="979.5"/>
<path class="a" d="M338.6,979.5 L348.6,977.5 L348.6,981.5 Z"/>
<path class="a" d="M433.7,979.5 L423.7,981.5 L423.7,977.5 Z"/>
<line class="d" x1="338.5" y1="957" x2="338.5" y2="980.3"/>
<line class="d" x1="433.5" y1="957" x2="433.5" y2="980.3"/>
<g transform="translate(377,977.2)"><path class="t" d="M0,-13.5 L7.4,-13.5 L1.85,0 M12,-10.35 L14.22,-13.5 L17.55,-13.5 L19.4,-11.03 L19.4,-8.1 L17.18,-5.62 L13.48,-4.27 L12,-2.7 L12,0 L19.4,0"/></g>
<line class="d" x1="644.7" y1="609.5" x2="728.3" y2="609.5"/>
<path class="a" d="M644.7,609.5 L654.7,607.5 L654.7,611.5 Z"/>
<path class="a" d="M728.3,609.5 L718.3,611.5 L718.3,607.5 Z"/>
<line class="d" x1="644.5" y1="608" x2="644.5" y2="661"/>
<line class="d" x1="728.5" y1="608" x2="728.5" y2="661"/>
<g transform="translate(668.8,607)"><path class="t" d="M5.92,-13.5 L0,-9.45 L0,-2.25 L1.85,0 L5.55,0 L7.4,-2.25 L7.4,-5.85 L5.55,-8.1 L1.85,-8.1 L0,-5.85 M12,-11.25 L13.85,-13.5 L17.55,-13.5 L19.4,-11.25 L19.4,-9 L17.55,-6.98 L14.96,-6.98 M17.55,-6.98 L19.4,-4.95 L19.4,-2.25 L17.55,0 L13.85,0 L12,-2.25 M33.05,0 L33.05,-13.5 L27.5,-4.5 L35.27,-4.5"/><rect x="23" y="-1.8" width="1.5" height="1.8" fill="#666"/></g>
<line class="d" x1="242.5" y1="1042.5" x2="242.5" y2="1084.5"/>
<path class="a" d="M242.5,1042.5 L244.5,1052.5 L240.5,1052.5 Z"/>
<path class="a" d="M242.5,1084.5 L240.5,1074.5 L244.5,1074.5 Z"/>
<line class="d" x1="242" y1="1042.5" x2="279" y2="1042.5"/>
<line class="d" x1="242" y1="1084.5" x2="280" y2="1084.5"/>
<g transform="translate(240.25,1073.25) rotate(-90)"><path class="t" d="M0,-11.25 L1.85,-13.5 L5.55,-13.5 L7.4,-11.25 L7.4,-9 L5.55,-6.98 L2.96,-6.98 M5.55,-6.98 L7.4,-4.95 L7.4,-2.25 L5.55,0 L1.85,0 L0,-2.25 M12,-10.35 L14.22,-13.5 L17.55,-13.5 L19.4,-11.03 L19.4,-8.1 L17.18,-5.62 L13.48,-4.27 L12,-2.7 L12,0 L19.4,0"/></g>
<line class="d" x1="333.4" y1="1145.5" x2="546.5" y2="1145.5"/>
<path class="a" d="M333.4,1145.5 L343.4,1143.5 L343.4,1147.5 Z"/>
<path class="a" d="M546.5,1145.5 L536.5,1147.5 L536.5,1143.5 Z"/>
<line class="d" x1="333.5" y1="1104" x2="333.5" y2="1146"/>
<line class="d" x1="546.5" y1="1104" x2="546.5" y2="1146"/>
<g transform="translate(419.2,1142.9)"><path class="t" d="M0.2,-11.25 L2.6,-13.5 L2.6,0 M0.7,0 L4.5,0 M14.22,-13.5 L8.3,-9.45 L8.3,-2.25 L10.15,0 L13.85,0 L15.7,-2.25 L15.7,-5.85 L13.85,-8.1 L10.15,-8.1 L8.3,-5.85 M20.5,-11.25 L22.9,-13.5 L22.9,0 M21,0 L24.8,0 M39.5,-13.5 L32.1,-13.5 L32.1,-8.78 L37.65,-8.78 L39.5,-6.52 L39.5,-2.25 L37.65,0 L33.95,0 L32.1,-2.25"/><rect x="27.6" y="-1.8" width="1.5" height="1.8" fill="#666"/></g>
<line class="d" x1="253.8" y1="1169.5" x2="562.4" y2="1169.5"/>
<path class="a" d="M253.8,1169.5 L263.8,1167.5 L263.8,1171.5 Z"/>
<path class="a" d="M562.4,1169.5 L552.4,1171.5 L552.4,1167.5 Z"/>
<line class="d" x1="253.5" y1="1068" x2="253.5" y2="1170.2"/>
<line class="d" x1="562.5" y1="1091" x2="562.5" y2="1170.2"/>
<g transform="translate(384.4,1167.3)"><path class="t" d="M0,-10.35 L2.22,-13.5 L5.55,-13.5 L7.4,-11.03 L7.4,-8.1 L5.18,-5.62 L1.48,-4.27 L0,-2.7 L0,0 L7.4,0 M12,-11.25 L13.85,-13.5 L17.55,-13.5 L19.4,-11.25 L19.4,-9 L17.55,-6.98 L14.96,-6.98 M17.55,-6.98 L19.4,-4.95 L19.4,-2.25 L17.55,0 L13.85,0 L12,-2.25 M24,-10.35 L26.22,-13.5 L29.55,-13.5 L31.4,-11.03 L31.4,-8.1 L29.18,-5.62 L25.48,-4.27 L24,-2.7 L24,0 L31.4,0 M46.9,-13.5 L39.5,-13.5 L39.5,-8.78 L45.05,-8.78 L46.9,-6.52 L46.9,-2.25 L45.05,0 L41.35,0 L39.5,-2.25"/><rect x="35" y="-1.8" width="1.5" height="1.8" fill="#666"/></g>
</svg>
</body></html>
